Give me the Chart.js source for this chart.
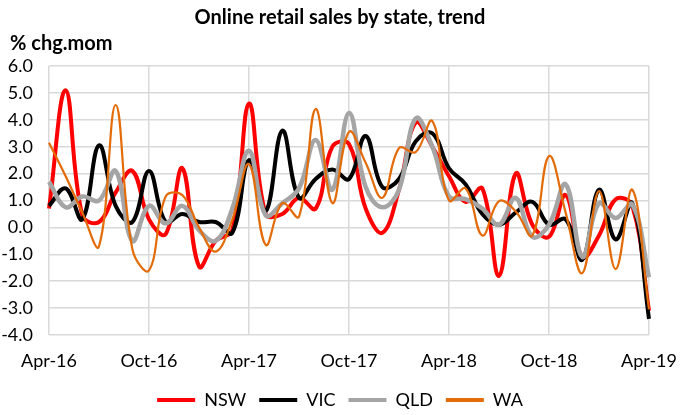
<!DOCTYPE html>
<html>
<head>
<meta charset="utf-8">
<script src="https://cdn.jsdelivr.net/npm/chart.js@4.4.1/dist/chart.umd.min.js"></script>
<style>
  body { margin: 0; background: #fff; }
  #wrap { width: 680px; height: 415px; }
</style>
</head>
<body>
<div id="wrap"><canvas id="grafica"></canvas></div>
<script>
// meses Apr-16 .. Apr-19
const meses = [
  "Apr-16", "May-16", "Jun-16", "Jul-16", "Aug-16", "Sep-16", "Oct-16", "Nov-16", "Dec-16",
  "Jan-17", "Feb-17", "Mar-17", "Apr-17", "May-17", "Jun-17", "Jul-17", "Aug-17", "Sep-17",
  "Oct-17", "Nov-17", "Dec-17", "Jan-18", "Feb-18", "Mar-18", "Apr-18", "May-18", "Jun-18",
  "Jul-18", "Aug-18", "Sep-18", "Oct-18", "Nov-18", "Dec-18", "Jan-19", "Feb-19", "Mar-19", "Apr-19"
];

const nsw = [0.7, 5.1, 0.45, 0.2, 1.3, 2.1, 0.3, -0.25, 2.2, -1.45, -0.5, -0.1, 4.6,
  0.5, 0.5, 1.1, 0.7, 3.0, 3.1, 0.7, -0.2, 1.4, 3.9, 3.0, 1.9, 0.95, 1.45,
  -1.8, 2.0, 0.1, -0.35, 1.2, -1.1, -0.3, 1.05, 0.8, -3.1];

const vic = [0.8, 1.45, 0.3, 3.05, 0.8, 0.2, 2.1, 0.2, 0.5, 0.2, 0.2, -0.2, 2.5,
  0.6, 3.6, 1.1, 1.8, 2.15, 1.8, 3.4, 1.5, 1.8, 3.2, 3.5, 2.2, 1.6, 0.5,
  0.1, 0.55, 0.95, 0.1, 0.3, -1.2, 1.4, -0.45, 0.9, -3.4];

const qld = [1.7, 0.75, 1.15, 1.0, 2.1, -0.5, 0.8, 0.15, 0.8, -0.1, -0.5, 0.7, 2.85,
  0.45, 0.9, 1.45, 3.25, 1.4, 4.25, 1.5, 0.75, 1.4, 4.05, 3.0, 1.15, 1.05, 0.7,
  0.1, 1.1, -0.35, 0.1, 1.6, -1.1, 0.9, 0.35, 0.85, -1.85];

const wa = [3.15, 1.9, 0.55, -0.7, 4.55, -0.8, -1.6, 1.15, 1.2, 0.0, -0.9, 0.3, 2.35,
  -0.65, 0.9, 0.4, 4.4, 0.9, 3.55, 2.4, 1.1, 2.95, 2.8, 3.95, 1.0, 1.45, -0.3,
  0.98, 0.6, -0.3, 2.65, 0.55, -1.7, 1.35, -1.55, 1.4, -3.05];

const fuente = "Lato, 'Open Sans', sans-serif";
const gris = "#d9d9d9";

const serie = (label, data, color, ancho, orden) => ({
  label,
  data,
  borderColor: color,
  backgroundColor: color,
  borderWidth: ancho,
  pointRadius: 0,
  tension: 0.4,
  order: orden,
});

const data = {
  labels: meses,
  datasets: [
    serie("NSW", nsw, "#ff0000", 4, 4),
    serie("VIC", vic, "#000000", 4, 3),
    serie("QLD", qld, "#a5a5a5", 4.5, 2),
    serie("WA", wa, "#e36c09", 2.2, 1),
  ],
};

// rotulo de unidades arriba del eje y
const rotuloEje = {
  id: "rotuloEje",
  afterDraw(chart) {
    const ctx = chart.ctx;
    ctx.save();
    ctx.font = "bold 20px " + fuente;
    ctx.fillStyle = "#000";
    ctx.textBaseline = "middle";
    ctx.fillText("% chg.mom", 10, 44);
    ctx.restore();
  },
};

const options = {
  responsive: true,
  maintainAspectRatio: false,
  animation: false,
  layout: { padding: { left: 2, right: 2, top: 0, bottom: -4 } },
  plugins: {
    title: {
      display: true,
      text: "Online retail sales by state, trend",
      color: "#000",
      font: { family: fuente, size: 20, weight: "bold" },
      padding: { top: 6, bottom: 36 },
    },
    legend: {
      position: "bottom",
      labels: {
        color: "#000",
        font: { family: fuente, size: 18 },
        boxWidth: 38,
        boxHeight: 4,
        padding: 13,
        generateLabels: (chart) =>
          chart.data.datasets.map((ds, i) => ({
            text: ds.label,
            fillStyle: ds.borderColor,
            strokeStyle: ds.borderColor,
            lineWidth: 0,
            datasetIndex: i,
            fontColor: "#000",
          })),
      },
    },
    tooltip: { enabled: false },
  },
  scales: {
    x: {
      grid: {
        color: (ctx) => (ctx.index % 6 === 0 ? gris : "rgba(0,0,0,0)"),
        lineWidth: 1.5,
        drawTicks: false,
      },
      border: { display: false },
      ticks: {
        autoSkip: false,
        maxRotation: 0,
        padding: 15,
        color: "#000",
        font: { family: fuente, size: 18 },
        callback: (v, i) => (i % 6 === 0 ? meses[i] : ""),
      },
      afterFit: (escala) => {
        escala.paddingLeft = 0;
        escala.paddingRight = 31;
        escala.height = 43;
      },
    },
    y: {
      min: -4,
      max: 6,
      grid: { color: gris, lineWidth: 1.5, drawTicks: false },
      border: { display: false },
      ticks: {
        stepSize: 1,
        padding: 16,
        color: "#000",
        font: { family: fuente, size: 18 },
        callback: (v) => v.toFixed(1),
      },
      afterFit: (escala) => {
        escala.width = 47;
      },
    },
  },
};

new Chart("grafica", { type: "line", data, options, plugins: [rotuloEje] });
</script>
</body>
</html>
